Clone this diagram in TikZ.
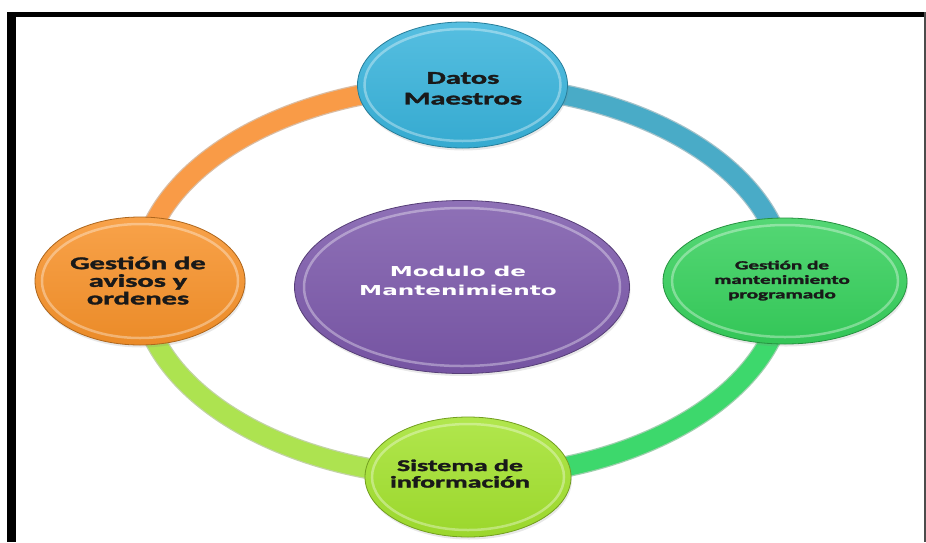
\documentclass[tikz,border=0pt]{standalone}
\usepackage{fontspec}
\usepackage{graphicx}
\usetikzlibrary{shapes.geometric,shadows}
\newfontfamily\calfont{Carlito}[BoldFeatures={FakeBold=1.5}]
\newfontfamily\dvfont{DejaVu Sans}
\newcommand{\stxt}[1]{\scalebox{1.69}[1]{\begin{tabular}{@{}c@{}}#1\end{tabular}}}
\definecolor{cyanF}{HTML}{38B3DB}
\definecolor{orangeF}{HTML}{F7922A}
\definecolor{greenF}{HTML}{36D05C}
\definecolor{limeF}{HTML}{A3E22E}
\definecolor{purpleF}{HTML}{7B58AA}
\definecolor{ringO}{HTML}{F99B47}
\definecolor{ringB}{HTML}{49ABC7}
\definecolor{ringG}{HTML}{3DD86C}
\definecolor{ringL}{HTML}{ADE350}
\tikzset{
  bubble/.style={ellipse, inner sep=0pt, draw=#1!70!black, line width=0.8pt,
    top color=#1!85!white, bottom color=#1!95!black,
    drop shadow={opacity=0.18, shadow xshift=1pt, shadow yshift=-2.5pt}},
  ringseg/.style={line width=19pt, draw=#1, line cap=butt},
  ringedge/.style={line width=21.5pt, draw=#1!70!black, draw opacity=0.45},
  rim/.style={draw=white, draw opacity=0.35, line width=2.5pt},
  darktext/.style={text=black!90, font=\calfont\bfseries},
}
\begin{document}
\begin{tikzpicture}[x=1pt,y=-1pt]
\useasboundingbox (0,0) rectangle (926,542);
\fill[white] (0,0) rectangle (926,542);
% frame
\fill[black] (7,12) rectangle (926,17);
\fill[black] (7,12) rectangle (16,542);
\fill[black!70] (923.5,12) rectangle (925.5,542);

% ring anchor points (nodes, drawn later, sit on them)
\coordinate (rc) at (462.5,281);
\coordinate (ptop) at (462.5,85);
\coordinate (pleft) at (140,281);
\coordinate (pright) at (785,281);

% ring segments
\draw[ringedge=ringO] (ptop) arc[start angle=-90, end angle=-180, x radius=322.5, y radius=196];
\draw[ringseg=ringO] (ptop) arc[start angle=-90, end angle=-180, x radius=322.5, y radius=196];
\draw[ringedge=ringB] (ptop) arc[start angle=-90, end angle=0, x radius=322.5, y radius=196];
\draw[ringseg=ringB] (ptop) arc[start angle=-90, end angle=0, x radius=322.5, y radius=196];
\draw[ringedge=ringG] (pright) arc[start angle=0, end angle=90, x radius=322.5, y radius=196];
\draw[ringseg=ringG] (pright) arc[start angle=0, end angle=90, x radius=322.5, y radius=196];
\draw[ringedge=ringL] (pleft) arc[start angle=180, end angle=90, x radius=322.5, y radius=196];
\draw[ringseg=ringL] (pleft) arc[start angle=180, end angle=90, x radius=322.5, y radius=196];

% bubbles
\node[bubble=cyanF, minimum width=210pt, minimum height=126pt] (dm) at (ptop) {};
\node[bubble=orangeF, minimum width=210pt, minimum height=128pt] (ga) at (pleft) {};
\node[bubble=greenF, minimum width=244pt, minimum height=126pt] (gm) at (pright) {};
\node[bubble=limeF, minimum width=206pt, minimum height=120pt] (si) at (468,477) {};
\node[bubble=purpleF, minimum width=335pt, minimum height=173pt] (mm) at (462,287) {};

% rim highlights
\draw[rim] (dm.center) ellipse[x radius=98, y radius=56];
\draw[rim] (ga.center) ellipse[x radius=98, y radius=57];
\draw[rim] (gm.center) ellipse[x radius=113, y radius=56];
\draw[rim] (si.center) ellipse[x radius=96, y radius=53];
\draw[rim] (mm.center) ellipse[x radius=158, y radius=79];

% texts
\node[darktext] (tdm) at (463,90) {\fontsize{18}{20.7}\selectfont\stxt{Datos\\Maestros}};
\node[darktext] (tga) at (138,283) {\fontsize{18}{16.7}\selectfont\stxt{Gestión de\\avisos y\\ordenes}};
\node[darktext] (tgm) at (782,281) {\fontsize{12.5}{14.5}\selectfont\stxt{Gestión de\\mantenimiento\\programado}};
\node[darktext] (tsi) at (460,476) {\fontsize{16.5}{16.5}\selectfont\stxt{Sistema de\\información}};
\node[text=white, font=\dvfont\bfseries] (tmm) at (458,282) {\fontsize{13.7}{18.7}\selectfont\stxt{Modulo\ de\\Mantenimiento}};
\end{tikzpicture}
\end{document}
